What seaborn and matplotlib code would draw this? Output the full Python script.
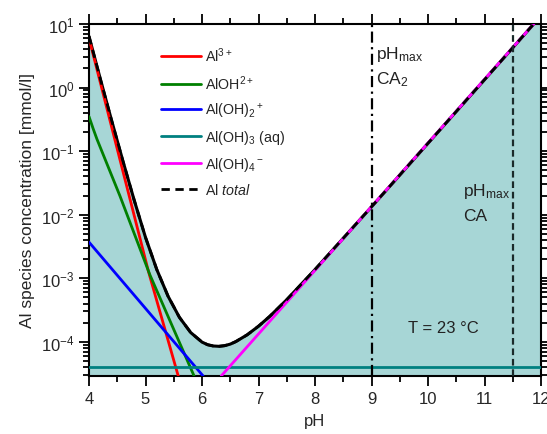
import numpy as np
import matplotlib
matplotlib.use("Agg")
import matplotlib.pyplot as plt
import seaborn as sns

# values (pH, concentration in mmol/l)
ph_al3 = [4.0, 5.05, 5.6]
c_al3 = [6.0, 1.3e-3, 2.5e-5]

ph_aloh = [4.0, 4.07, 4.14, 4.55, 5.08, 5.86]
c_aloh = [0.35, 0.23, 0.155, 0.0195, 1.12e-3, 2.9e-5]

ph_aloh2 = [4.0, 6.02]
c_aloh2 = [3.7e-3, 2.9e-5]

ph_aloh3 = [4.0, 12.0]
c_aloh3 = [4.0e-5, 4.0e-5]

ph_aloh4 = [6.34, 12.0]
c_aloh4 = [2.9e-5, 13.5]

ph_total = [4.0, 4.2, 4.4, 4.6, 4.8, 5.0, 5.2, 5.4, 5.6, 5.8, 6.0, 6.1, 6.2,
            6.3, 6.4, 6.5, 6.6, 6.8, 7.0, 7.2, 7.5, 8.0, 8.5, 9.0, 10.0, 11.0, 12.0]
c_total = [6.4, 1.37, 0.304, 0.070, 0.0169, 4.4e-3, 1.37e-3, 5.2e-4, 2.43e-4,
           1.4e-4, 9.9e-5, 9.0e-5, 8.6e-5, 8.5e-5, 8.7e-5, 9.2e-5, 1.01e-4,
           1.29e-4, 1.76e-4, 2.52e-4, 4.6e-4, 1.37e-3, 4.26e-3, 1.33e-2, 0.133,
           1.33, 13.5]

labels = [r"Al$^{3+}$", r"AlOH$^{2+}$", r"Al(OH)$_2$$^+$", r"Al(OH)$_3$ (aq)",
          r"Al(OH)$_4$$^-$", r"Al $\mathit{total}$"]
colors = ["#ff0000", "#008000", "#0000ff", "#008080", "#ff00ff", "black"]

ph_ca2 = 9.0
ph_ca = 11.5

sns.set_style("ticks")
plt.rcParams["font.family"] = ["Liberation Sans", "DejaVu Sans"]
plt.rcParams["mathtext.fontset"] = "custom"
plt.rcParams["mathtext.rm"] = "Liberation Sans"
plt.rcParams["mathtext.it"] = "Liberation Sans:italic"
plt.rcParams["mathtext.default"] = "regular"

fig = plt.figure(figsize=(5.47, 4.35), dpi=100)
ax = fig.add_axes([89 / 547, 1 - 377 / 435, 452 / 547, 352 / 435])
ax.set_yscale("log")

ax.fill_between(ph_total, 1e-6, c_total, color="#a7d6d6", lw=0, zorder=1)

# solid total underneath, species on top, dashed total last
sns.lineplot(x=ph_total, y=c_total, color="black", lw=2.2, ax=ax,
             label="_nolegend_", sort=False, zorder=2)
series = [(ph_al3, c_al3), (ph_aloh, c_aloh), (ph_aloh2, c_aloh2),
          (ph_aloh3, c_aloh3), (ph_aloh4, c_aloh4)]
for (xs, ys), lab, col in zip(series, labels[:5], colors[:5]):
    sns.lineplot(x=xs, y=ys, color=col, lw=2, ax=ax, label=lab, sort=False, zorder=3)
sns.lineplot(x=ph_total, y=c_total, color="black", lw=2, ax=ax, label=labels[5],
             sort=False, zorder=4)
ax.lines[-1].set_dashes([3, 2])

ax.axvline(ph_ca2, color="black", lw=1.6, dashes=[5, 2, 1, 2], zorder=5)
ax.axvline(ph_ca, color="#1a2a2a", lw=1.6, dashes=[3, 1.7], zorder=5)

tkw = dict(transform=ax.transAxes, fontsize=12.5, va="center", color="#222222")
ax.text(0.636, 0.915, r"pH$_{max}$", **tkw)
ax.text(0.636, 0.845, r"CA$_2$", **tkw)
ax.text(0.828, 0.526, r"pH$_{max}$", **tkw)
ax.text(0.828, 0.456, "CA", **tkw)
ax.text(0.784, 0.139, "T = 23 °C", transform=ax.transAxes, fontsize=12,
        va="center", ha="center", color="#222222")

ax.set_xlim(4, 12)
ax.set_ylim(2.9e-5, 10)
ax.set_xticks(range(4, 13))
ax.set_xticks(np.arange(4.5, 12, 1.0), minor=True)
ax.tick_params(which="both", direction="out", top=True, right=True,
               labelsize=12, width=1.3, color="black", pad=3)
ax.tick_params(which="major", length=7.5)
ax.tick_params(which="minor", length=4)
for sp in ax.spines.values():
    sp.set_linewidth(1.5)
    sp.set_color("black")
    sp.set_visible(True)

ax.set_xlabel("pH", fontsize=12, labelpad=5)
ax.set_ylabel("Al species concentration [mmol/l]", fontsize=12.5, labelpad=4)

leg = ax.legend(loc="upper left", bbox_to_anchor=(0.146, 0.955), frameon=False,
                borderaxespad=0, handlelength=2.8, handletextpad=0.3,
                labelspacing=0.62, fontsize=10.3)
for h in leg.get_lines():
    h.set_linewidth(2)
leg.get_lines()[-1].set_dashes([3, 2])

fig.savefig("out.png", dpi=100)
